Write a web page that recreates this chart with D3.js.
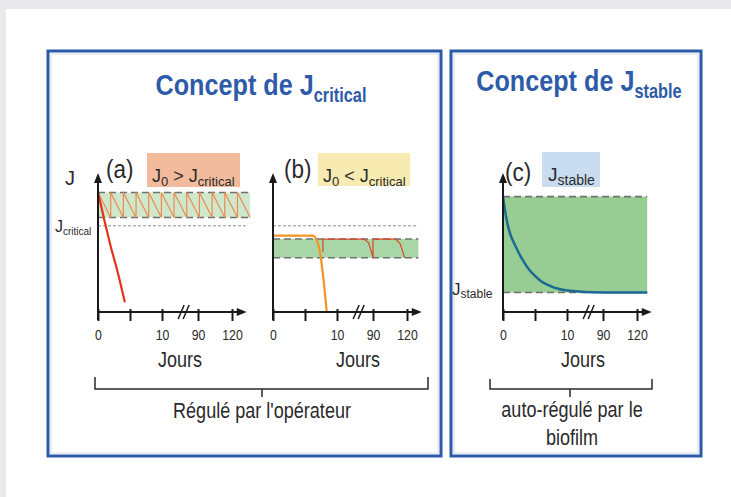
<!DOCTYPE html>
<meta charset="utf-8">
<style>
body { margin: 0; background: #e9e9eb; }
svg { display: block; font-family: "Liberation Sans", Arial, sans-serif; }
.axis-line { stroke: #1a1a1a; stroke-width: 2; fill: none; }
.arrow { fill: #1a1a1a; }
.band-edge { stroke: #707070; stroke-width: 1.6; stroke-dasharray: 7,4; fill: none; }
.crit-line { stroke: #8c8c8c; stroke-width: 1; stroke-dasharray: 3,2; }
.tick line { stroke: #1a1a1a; stroke-width: 2; }
.tick text { fill: #2a2a2a; font-size: 15px; }
.lbl { fill: #2a2a2a; }
.title { fill: #2d5ba8; font-weight: bold; }
.panel { fill: #fff; stroke: #2b5aa9; stroke-width: 3; }
.panel-inner { fill: none; stroke: #d3dcee; stroke-width: 1; }
.bracket { fill: none; stroke: #2a2a2a; stroke-width: 1.5; }
</style>
<svg width="731" height="497"></svg>
<script src="https://cdn.jsdelivr.net/npm/d3@7"></script>
<script>
// shared x axis (broken between 10 and 90 days)
var xTicks = [0, 5, 10, 90, 120];
var xTickLabels = ["0", "", "10", "90", "120"];
var xBreak = 57;
var xArrow = 133;

// (a) J0 > Jcritical
var bandA = [68, 86], critA = 62, bandEndA = 136, teethA = 12;
var redA = [[0, 86], [1, 66], [2, 47], [3, 30], [4.2, 7]];

// (b) J0 < Jcritical
var bandB = [39, 52.5], critB = 62, bandEndB = 130;
var orangeB = [[0, 55], [6.2, 55], [6.8, 52], [7.3, 44], [8.4, 0]];
var redB = [[7.8, 43], [7.8, 52.5], [70, 52.5], [80, 50], [86, 44], [90, 39],
            [90, 52.5], [110, 52.5], [114, 49], [118, 39]];

// (c) Jstable
var bandC = [14, 83], bandEndC = 129;
var blueC = [[0, 83], [0.5, 68], [1, 58], [2, 47], [3, 38], [4, 31], [5, 26], [6, 22],
             [7, 19.5], [8, 17.5], [10, 15.5], [90, 14], [129, 14]];

var svg = d3.select("svg");

svg.append("rect").attr("x", 6).attr("y", 9).attr("width", 725).attr("height", 488).attr("fill", "#fff");

// panels
[[48, 51, 393, 405], [451, 51, 250, 405]].forEach(function(p) {
  svg.append("rect").attr("class", "panel").attr("x", p[0]).attr("y", p[1]).attr("width", p[2]).attr("height", p[3]);
  svg.append("rect").attr("class", "panel-inner").attr("x", p[0] + 3).attr("y", p[1] + 3).attr("width", p[2] - 6).attr("height", p[3] - 6);
});

var y = d3.scaleLinear().domain([0, 100]).range([312, 173]);

function xScale(ox) {
  return d3.scaleLinear().domain([0, 10, 90, 120]).range([ox, ox + 64, ox + 100, ox + 134]);
}

function rich(x0, y0, parts, anchor, sx, cls) {
  var t = svg.append("text")
      .attr("class", cls || "lbl")
      .attr("text-anchor", anchor)
      .attr("transform", "translate(" + x0 + "," + y0 + ") scale(" + sx + ",1)");
  parts.forEach(function(p) {
    t.append("tspan").text(p[0]).style("font-size", p[1] + "px").attr("dy", p[2] || 0);
  });
  return t;
}

function drawAxes(x) {
  var g = svg.append("g");
  var x0 = x(0), yTop = y(100), y0 = y(0);
  g.append("path").attr("class", "axis-line")
      .attr("d", "M" + x0 + "," + (y0 + 8) + "L" + x0 + "," + (yTop + 7));
  g.append("path").attr("class", "arrow")
      .attr("d", "M" + (x0 - 4) + "," + (yTop + 10) + "L" + x0 + "," + yTop + "L" + (x0 + 4) + "," + (yTop + 10) + "Z");
  var xe = x(xArrow);
  g.append("path").attr("class", "axis-line")
      .attr("d", "M" + x0 + "," + y0 + "L" + (xe - 7) + "," + y0);
  g.append("path").attr("class", "arrow")
      .attr("d", "M" + (xe - 10) + "," + (y0 - 4) + "L" + xe + "," + y0 + "L" + (xe - 10) + "," + (y0 + 4) + "Z");

  var ax = g.append("g")
      .attr("transform", "translate(0," + y0 + ")")
      .call(d3.axisBottom(x).tickValues(xTicks)
            .tickFormat(function(d, i) { return xTickLabels[i]; })
            .tickSizeInner(9).tickSizeOuter(0));
  ax.select(".domain").remove();
  ax.selectAll(".tick line").attr("y1", -3);
  ax.selectAll(".tick text").attr("y", 28).attr("dy", null)
      .attr("transform", "scale(0.82,1)").attr("fill", "#2a2a2a");

  var xb = x(xBreak);
  [0, 5].forEach(function(o) {
    g.append("line").attr("stroke", "#1a1a1a").attr("stroke-width", 1.5)
        .attr("x1", xb - 5 + o).attr("y1", y0 + 7)
        .attr("x2", xb + 1 + o).attr("y2", y0 - 7);
  });
  return g;
}

function band(x, b, xEnd, fill) {
  svg.append("rect")
      .attr("x", x(0)).attr("y", y(b[1]))
      .attr("width", x(xEnd) - x(0)).attr("height", y(b[0]) - y(b[1]))
      .attr("fill", fill);
  b.forEach(function(v) {
    svg.append("line").attr("class", "band-edge")
        .attr("x1", x(0)).attr("x2", x(xEnd)).attr("y1", y(v)).attr("y2", y(v));
  });
}

function curve(x, pts, color, w, smooth) {
  svg.append("path")
      .attr("fill", "none").attr("stroke", color).attr("stroke-width", w)
      .attr("d", d3.line().curve(smooth ? d3.curveMonotoneX : d3.curveLinear)
          .x(function(d) { return x(d[0]); }).y(function(d) { return y(d[1]); })(pts));
}

// ---- (a)
var xa = xScale(98);
svg.append("rect").attr("x", 147).attr("y", 153).attr("width", 93).attr("height", 34).attr("fill", "#f3bb9e");
band(xa, bandA, bandEndA, "#cfe8cd");
var tx = d3.scaleLinear().domain([0, teethA]).range([xa(0), xa(bandEndA)]);
var saw = [];
d3.range(teethA).forEach(function(i) {
  saw.push([tx(i), y(bandA[0])], [tx(i), y(bandA[1])]);
});
saw.push([tx(teethA), y(bandA[0])]);
svg.append("path").attr("fill", "none").attr("stroke", "#ee8a4e").attr("stroke-width", 1.2)
    .attr("d", d3.line()(saw));
svg.append("line").attr("class", "crit-line")
    .attr("x1", xa(0)).attr("x2", xa(bandEndA - 4)).attr("y1", y(critA)).attr("y2", y(critA));
curve(xa, redA, "#e5321b", 2.2, true);
drawAxes(xa);

// ---- (b)
var xb = xScale(273);
svg.append("rect").attr("x", 318).attr("y", 153).attr("width", 92).attr("height", 33).attr("fill", "#f7ebb2");
band(xb, bandB, bandEndB, "#a8d6a6");
svg.append("line").attr("class", "crit-line")
    .attr("x1", xb(0)).attr("x2", xb(bandEndB)).attr("y1", y(critB)).attr("y2", y(critB));
curve(xb, redB, "#e0452a", 1.2, false);
curve(xb, orangeB, "#f39323", 2.2, true);
drawAxes(xb);

// ---- (c)
var xc = xScale(503);
svg.append("rect").attr("x", 542).attr("y", 152).attr("width", 58).attr("height", 35).attr("fill", "#c9dcf0");
band(xc, bandC, bandEndC, "#97cc92");
curve(xc, blueC, "#1b6a96", 2.5, true);
drawAxes(xc);

// ---- titles
rich(261, 95, [["Concept de J", 30], ["critical", 19.5, 7]], "middle", 0.84, "title");
rich(579, 91, [["Concept de J", 30], ["stable", 19.5, 7]], "middle", 0.84, "title");

// ---- panel labels
rich(106, 178, [["(a)", 25]], "start", 0.9);
rich(284, 178, [["(b)", 25]], "start", 0.9);
rich(505, 181, [["(c)", 25]], "start", 0.9);
rich(152, 182, [["J", 18], ["0", 13, 4], [" > J", 18, -4], ["critical", 13, 4]], "start", 1);
rich(323, 182, [["J", 18], ["0", 13, 4], [" < J", 18, -4], ["critical", 13, 4]], "start", 1);
rich(548, 181, [["J", 19], ["stable", 14, 4]], "start", 1);

rich(65, 185, [["J", 20]], "start", 1);
rich(55, 232, [["J", 16], ["critical", 10, 3]], "start", 1);
rich(452, 295, [["J", 17], ["stable", 12, 3]], "start", 1);

[180, 358, 583].forEach(function(cx) {
  rich(cx, 367, [["Jours", 22]], "middle", 0.82);
});

// ---- brackets
svg.append("path").attr("class", "bracket")
    .attr("d", "M95,377V389H428V377M262,389V397");
svg.append("path").attr("class", "bracket")
    .attr("d", "M490,379V389H652V379M570,389V397");
rich(262, 418, [["Régulé par l'opérateur", 22]], "middle", 0.82);
rich(572, 417, [["auto-régulé par le", 22]], "middle", 0.82);
rich(572, 445, [["biofilm", 22]], "middle", 0.82);
</script>
